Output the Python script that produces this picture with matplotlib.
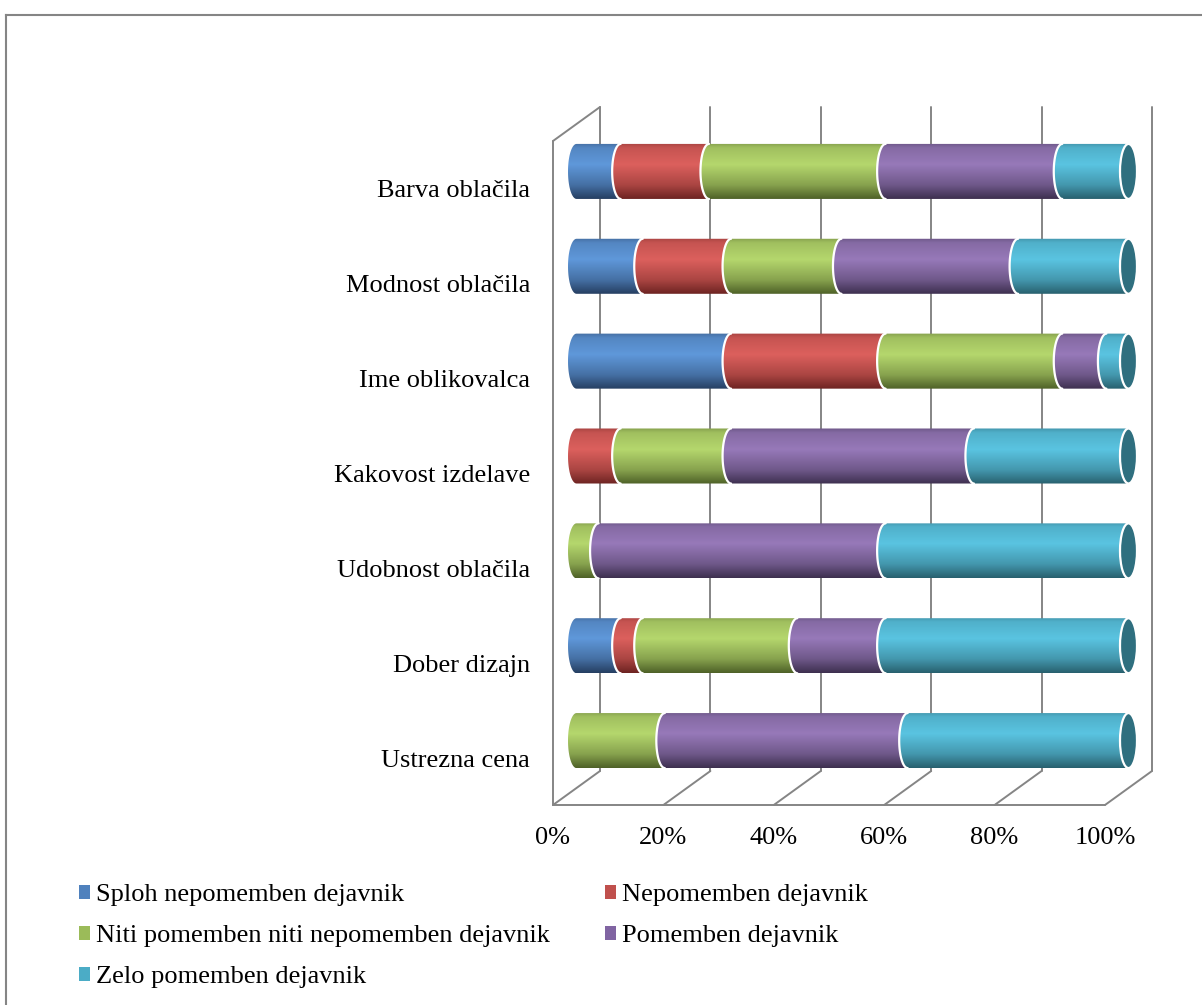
import numpy as np
import matplotlib
matplotlib.use("Agg")
import matplotlib.pyplot as plt
from matplotlib.path import Path
from matplotlib.patches import PathPatch, Ellipse, Patch
from matplotlib.lines import Line2D
from matplotlib.colors import to_rgb

# ---------------- data ----------------
categories = ["Barva oblačila", "Modnost oblačila", "Ime oblikovalca",
              "Kakovost izdelave", "Udobnost oblačila", "Dober dizajn",
              "Ustrezna cena"]
series_names = ["Sploh nepomemben dejavnik", "Nepomemben dejavnik",
                "Niti pomemben niti nepomemben dejavnik", "Pomemben dejavnik",
                "Zelo pomemben dejavnik"]
sploh = [8, 12, 28, 0, 0, 8, 0]
nepomemben = [16, 16, 28, 8, 0, 4, 0]
niti = [32, 20, 32, 20, 4, 28, 16]
pomemben = [32, 32, 8, 44, 52, 16, 44]
zelo = [12, 20, 4, 28, 44, 44, 40]
tick_values = [0, 20, 40, 60, 80, 100]
tick_labels = ["0%", "20%", "40%", "60%", "80%", "100%"]

base_colors = ["#4F81BD", "#C0504D", "#9BBB59", "#8064A2", "#4BACC6"]
light_colors = ["#5F98DA", "#DC605D", "#B5D76D", "#9779B9", "#5AC4E1"]
dark_colors = ["#263F62", "#6E2422", "#4F6228", "#3E3050", "#28616F"]
cap_color = "#2F6F7F"
line_color = "#858585"

plt.rcParams['font.family'] = ['Liberation Serif', 'DejaVu Serif']
FS = 19

W, H = 1202, 1005
fig = plt.figure(figsize=(W / 100, H / 100), dpi=100)
fig.patch.set_facecolor("white")

# middle (bar) plane of the 3-D box: 0% at 576.5 px, 100% at 1128.5 px
zero_px, full_px = 576.5, 1128.5
ppu = (full_px - zero_px) / 100            # pixels per data unit (x)
XL, XR = -4, 104                            # room for the rounded caps
left_px = zero_px + XL * ppu
right_px = zero_px + XR * ppu
top_px, bot_px = 124, 788
ax = fig.add_axes([left_px / W, 1 - bot_px / H, (right_px - left_px) / W,
                   (bot_px - top_px) / H])
ax.set_xlim(XL, XR)
ax.set_ylim(-0.5, 6.5)
ax.set_axis_off()

px_x = 1 / ppu                             # data units per pixel (x)
px_y = 7 / (bot_px - top_px)               # data units per pixel (y)
DX = 23.5 * px_x                           # depth offset (half depth)
DY = 17 * px_y
y0, y1 = -0.5, 6.5

lk = dict(color=line_color, lw=1.4, clip_on=False, zorder=1,
          solid_capstyle='round')
# back wall gridlines
for t in tick_values:
    ax.plot([t + DX, t + DX], [y0 + DY, y1 + DY], **lk)
    # floor diagonals
    ax.plot([t + DX, t - DX], [y0 + DY, y0 - DY], **lk)
# floor front edge
ax.plot([0 - DX, 100 - DX], [y0 - DY, y0 - DY], **lk)
# left wall front edge and top diagonal
ax.plot([0 - DX, 0 - DX], [y0 - DY, y1 - DY], **lk)
ax.plot([0 - DX, 0 + DX], [y1 - DY, y1 + DY], **lk)

# ---------------- bars ----------------
series = [sploh, nepomemben, niti, pomemben, zelo]
bar_h = 0.58
b = bar_h / 2
a = 8.5 * px_x      # ellipse half-width (data units)


def gradient(light, dark, n=80):
    l = np.array(to_rgb(light))
    d = np.array(to_rgb(dark))
    t = np.linspace(0, 1, n)
    stops_t = [0.0, 0.08, 0.38, 0.75, 1.0]
    cols = [0.55 * l + 0.45 * d, 0.8 * l + 0.2 * d, l, 0.55 * l + 0.45 * d, d]
    out = np.zeros((n, 1, 3))
    for ch in range(3):
        out[:, 0, ch] = np.interp(t, stops_t, [c[ch] for c in cols])
    return out


theta = np.linspace(np.pi / 2, 3 * np.pi / 2, 40)
for i, cat in enumerate(categories):
    y = 6 - i
    start = 0.0
    first = True
    for s, vals in enumerate(series):
        v = vals[i]
        if v <= 0:
            continue
        x0, x1 = start, start + v
        ex = x0 + a * np.cos(theta)
        ey = y + b * np.sin(theta)
        verts = [(x1, y + b), (x0, y + b)] + list(zip(ex, ey)) + \
                [(x0, y - b), (x1, y - b), (x1, y + b)]
        path = Path(verts, closed=True)
        patch = PathPatch(path, facecolor='none', edgecolor='none',
                          transform=ax.transData)
        ax.add_patch(patch)
        im = ax.imshow(gradient(light_colors[s], dark_colors[s]),
                       extent=(x0 - a, x1, y - b, y + b), aspect='auto',
                       origin='upper', interpolation='bilinear',
                       zorder=2 + s * 0.01)
        im.set_clip_path(patch)
        if not first:
            ax.plot(ex, ey, color='white', lw=1.6, zorder=3,
                    solid_capstyle='round')
        first = False
        start = x1
    # end cap
    cap = Ellipse((start, y), 2 * a, 2 * b, facecolor=cap_color,
                  edgecolor='white', lw=1.6, zorder=4)
    ax.add_patch(cap)

ax.set_xlim(XL, XR)
ax.set_ylim(-0.5, 6.5)

# category labels (front plane)
for i, cat in enumerate(categories):
    y = 6 - i
    ax.annotate(cat, xy=(0 - DX, y - DY), xytext=(-23, -3),
                textcoords='offset pixels', ha='right', va='center',
                fontsize=FS, annotation_clip=False)

# tick labels (front plane)
for t, lab in zip(tick_values, tick_labels):
    ax.annotate(lab, xy=(t - DX, y0 - DY), xytext=(0, -22),
                textcoords='offset pixels', ha='center', va='top',
                fontsize=FS, annotation_clip=False)

# legend
handles = [Patch(facecolor=c, edgecolor='none') for c in base_colors]
order = [0, 2, 4, 1, 3]
fig.legend([handles[k] for k in order], [series_names[k] for k in order],
           loc='upper left', bbox_to_anchor=(79 / W, 1 - 884 / H), ncol=2,
           frameon=False, fontsize=FS, handlelength=0.43, handleheight=0.43,
           handletextpad=0.2, columnspacing=2.1, labelspacing=0.72,
           borderaxespad=0, borderpad=0)

# outer chart border
fig.add_artist(Line2D([6 / W, 6 / W], [0, 1 - 15 / H], transform=fig.transFigure,
                      color=line_color, lw=1.5))
fig.add_artist(Line2D([6 / W, 1], [1 - 15 / H, 1 - 15 / H], transform=fig.transFigure,
                      color=line_color, lw=1.5))

fig.savefig("out.png", dpi=100, facecolor="white")
